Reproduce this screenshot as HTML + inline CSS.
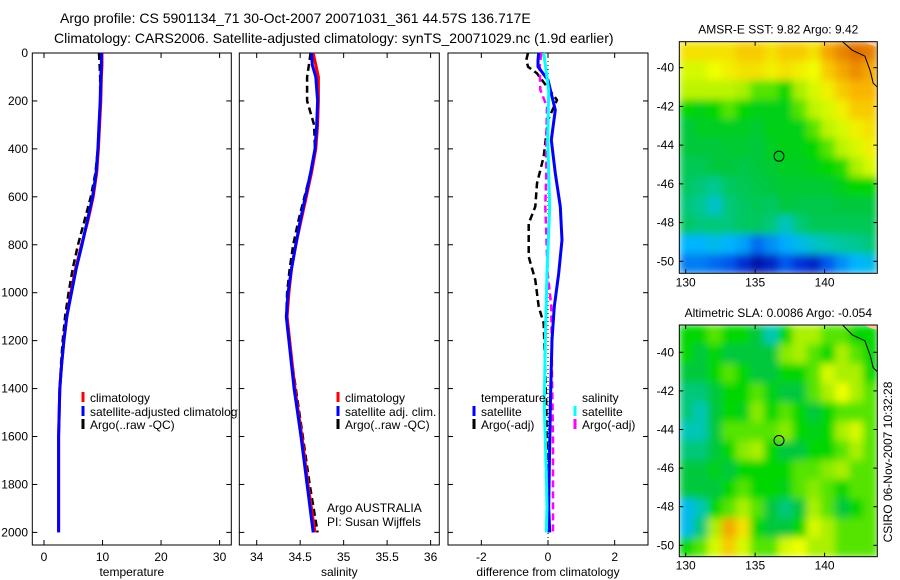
<!DOCTYPE html>
<html><head><meta charset="utf-8"><style>
html,body{margin:0;padding:0;background:#fff;}
svg{display:block;font-family:"Liberation Sans",sans-serif;}
</style></head><body>
<svg id="fig" width="900" height="580" viewBox="0 0 900 580" xmlns="http://www.w3.org/2000/svg">
<defs>
<clipPath id="c1"><rect x="0" y="0" width="238" height="580"/></clipPath>
<clipPath id="m1"><rect x="679.3" y="41.7" width="198" height="231.6"/></clipPath>
<clipPath id="m2"><rect x="679.3" y="325" width="198" height="231.7"/></clipPath>
<filter id="blur" x="-5%" y="-5%" width="110%" height="110%"><feGaussianBlur stdDeviation="4" edgeMode="duplicate"/></filter>
</defs>
<text x="60" y="23" font-size="14">Argo profile: CS 5901134_71 30-Oct-2007 20071031_361 44.57S 136.717E</text>
<text x="54" y="43" font-size="14">Climatology: CARS2006. Satellite-adjusted climatology: synTS_20071029.nc (1.9d earlier)</text>
<g id="layer"></g>
</svg>
<script>
// ---- profile data ----
const depths = [0,50,100,200,300,400,500,600,700,800,900,1000,1100,1200,1300,1400,1500,1600,1800,2000];
const tempClim = [9.9,9.9,9.8,9.7,9.5,9.3,9.0,8.4,7.5,6.4,5.4,4.6,3.9,3.4,3.0,2.7,2.6,2.5,2.5,2.5];
const tempSat  = [9.8,9.8,9.7,9.6,9.4,9.2,8.9,8.3,7.4,6.5,5.5,4.7,3.9,3.4,3.0,2.7,2.6,2.5,2.5,2.5];
const tempArgo = [9.4,9.5,9.6,9.6,9.4,9.2,8.8,8.0,6.9,5.8,4.9,4.2,3.6,3.2,2.9,2.7,2.6,2.5,2.5,2.5];
const salClim = [34.65,34.68,34.71,34.71,34.70,34.68,34.63,34.57,34.51,34.45,34.40,34.37,34.35,34.38,34.41,34.44,34.48,34.52,34.59,34.67];
const salSat  = [34.63,34.64,34.68,34.70,34.69,34.67,34.62,34.56,34.50,34.45,34.40,34.36,34.34,34.37,34.40,34.43,34.47,34.51,34.58,34.65];
const salArgo = [34.62,34.60,34.58,34.58,34.66,34.67,34.62,34.55,34.48,34.42,34.38,34.35,34.34,34.37,34.41,34.45,34.49,34.53,34.61,34.70];
const dTempSatDepth = [0,29,57,113,238,363,502,641,780,919,1058,1197,1475,1893,2000];
const dTempSat      = [-0.28,-0.3,-0.3,0,0.22,0.1,0.22,0.37,0.42,0.32,0.19,0.12,0.07,0.02,0.05];
const dTempArgoDepth = [0,29,57,85,196,279,432,544,641,711,850,947,1058,1128,1336,1475,1893,2000];
const dTempArgo      = [-0.6,-0.65,-0.6,-0.33,0.27,0,-0.13,-0.33,-0.38,-0.58,-0.58,-0.38,-0.28,-0.13,-0.08,-0.05,-0.01,0];
const dSalSatDepth = [0,154,363,641,919,1197,1475,1753,1893,2000];
const dSalSat      = [-0.13,0.02,-0.01,0.05,-0.03,-0.08,-0.11,-0.05,-0.03,-0.05];
const dSalArgoDepth = [0,57,154,224,363,502,641,919,1058,1336,1614,1893,2000];
const dSalArgo      = [-0.2,-0.25,-0.23,-0.03,-0.05,-0.05,-0.08,-0.01,0.1,0.12,0.15,0.15,0.15];
// ---- map data (colour index 0..1, rows -39..-50, cols 130..143) ----
const sstGrid = [
[.72,.72,.72,.72,.75,.75,.72,.75,.75,.72,.8,.85,.88,.86],
[.65,.65,.68,.7,.72,.72,.7,.72,.7,.68,.75,.8,.84,.8],
[.62,.62,.62,.62,.6,.55,.55,.5,.6,.65,.7,.75,.78,.78],
[.5,.48,.5,.55,.5,.48,.48,.48,.55,.62,.65,.7,.75,.75],
[.45,.47,.47,.47,.47,.46,.48,.48,.48,.55,.62,.65,.7,.72],
[.45,.45,.45,.46,.46,.45,.47,.48,.48,.5,.55,.62,.65,.7],
[.43,.43,.45,.45,.44,.45,.46,.47,.47,.48,.5,.52,.6,.65],
[.42,.4,.38,.42,.43,.44,.45,.46,.46,.46,.46,.48,.5,.5],
[.4,.38,.33,.4,.42,.43,.42,.45,.44,.44,.44,.45,.45,.45],
[.42,.4,.4,.4,.42,.42,.4,.34,.4,.43,.43,.43,.43,.43],
[.28,.28,.3,.28,.26,.2,.24,.27,.3,.33,.35,.37,.38,.4],
[.22,.22,.2,.18,.12,.06,.1,.18,.13,.1,.18,.24,.28,.3]];
const slaGrid = [
[.5,.5,.55,.5,.5,.45,.35,.5,.6,.6,.55,.55,.5,.5],
[.5,.45,.5,.45,.45,.45,.45,.58,.6,.55,.5,.6,.55,.5],
[.45,.45,.5,.55,.5,.45,.45,.5,.5,.55,.65,.6,.6,.5],
[.4,.4,.45,.5,.5,.55,.48,.45,.45,.55,.6,.68,.6,.55],
[.4,.35,.45,.5,.48,.58,.5,.55,.5,.45,.5,.55,.55,.55],
[.35,.35,.45,.55,.55,.55,.55,.58,.5,.48,.5,.6,.65,.55],
[.4,.4,.45,.5,.58,.6,.5,.45,.45,.5,.5,.55,.6,.55],
[.45,.45,.48,.45,.5,.5,.5,.5,.55,.55,.58,.6,.55,.55],
[.45,.45,.45,.5,.55,.5,.5,.48,.55,.58,.55,.5,.55,.55],
[.3,.35,.5,.55,.6,.55,.45,.4,.45,.6,.55,.45,.5,.55],
[.3,.4,.6,.8,.72,.5,.45,.45,.5,.65,.6,.55,.55,.55],
[.5,.55,.65,.75,.65,.55,.55,.65,.68,.6,.6,.55,.55,.55]];
const depthTicks = [0,200,400,600,800,1000,1200,1400,1600,1800,2000];
const tempTicks = [0,10,20,30];
const salTicks = [34,34.5,35,35.5,36];
const diffTicks = [-2,0,2];
const latTicks = [-40,-42,-44,-46,-48,-50];
const lonTicks = [130,135,140];

const NS='http://www.w3.org/2000/svg';
const L=document.getElementById('layer');
function mk(t,a,p){const e=document.createElementNS(NS,t);for(const k in a)e.setAttribute(k,a[k]);(p||L).appendChild(e);return e;}
const top0=53, bot=545;
const yD=d=>top0+d*0.2397;
const panels=[
 {x0:32.3,x1:231.3,lo:-2,hi:32,ticks:tempTicks,lab:'temperature',name:'temperature-panel'},
 {x0:239.3,x1:439.3,lo:33.8,hi:36.1,ticks:salTicks,lab:'salinity',name:'salinity-panel'},
 {x0:448,x1:648,lo:-3,hi:3,ticks:diffTicks,lab:'difference from climatology',name:'difference-panel'}];
panels.forEach(p=>{p.sx=v=>p.x0+(v-p.lo)/(p.hi-p.lo)*(p.x1-p.x0);});
panels.forEach((p,i)=>{
  const g=mk('g',{});
  
  
  mk('rect',{x:p.x0,y:top0,width:p.x1-p.x0,height:bot-top0,fill:'#fff',stroke:'#000','stroke-width':1},g);
  depthTicks.forEach(d=>{
    mk('line',{x1:p.x0,x2:p.x0+5,y1:yD(d),y2:yD(d),stroke:'#000'},g);
    mk('line',{x1:p.x1,x2:p.x1-5,y1:yD(d),y2:yD(d),stroke:'#000'},g);
    if(i===0){const t=mk('text',{x:28,y:yD(d)+4,'font-size':12,'text-anchor':'end'},g);t.textContent=d;
      }
  });
  p.ticks.forEach(v=>{const x=p.sx(v);
    mk('line',{x1:x,x2:x,y1:top0,y2:top0+5,stroke:'#000'},g);
    mk('line',{x1:x,x2:x,y1:bot,y2:bot-5,stroke:'#000'},g);
    const t=mk('text',{x:x,y:561,'font-size':12,'text-anchor':'middle'},g);t.textContent=v;
    });
  const t=mk('text',{x:(p.x0+p.x1)/2,y:576,'font-size':12,'text-anchor':'middle'},g);t.textContent=p.lab;
  
});
function line(p,vals,ds,col,dash,name){
  const pts=vals.map((v,k)=>p.sx(v).toFixed(1)+','+yD(ds[k]).toFixed(1)).join(' ');
  const e=mk('polyline',{points:pts,fill:'none',stroke:col,'stroke-width':dash?2.5:3,'stroke-dasharray':dash?'7,4':'none','stroke-linejoin':'round'});
  
  
}
const P=panels;
line(P[0],tempArgo,depths,'#000',true,'temp-argo-line');
line(P[0],tempClim,depths,'#f00',false,'temp-climatology-line');
line(P[0],tempSat,depths,'#00f',false,'temp-satellite-line');
line(P[1],salArgo,depths,'#000',true,'sal-argo-line');
line(P[1],salClim,depths,'#f00',false,'sal-climatology-line');
line(P[1],salSat,depths,'#00f',false,'sal-satellite-line');
mk('line',{x1:P[2].sx(0),x2:P[2].sx(0),y1:top0,y2:bot,stroke:'#000','stroke-dasharray':'1,3'});
line(P[2],dTempArgo,dTempArgoDepth,'#000',true,'diff-temp-argo-line');
line(P[2],dSalArgo,dSalArgoDepth,'#f0f',true,'diff-sal-argo-line');
line(P[2],dTempSat,dTempSatDepth,'#00f',false,'diff-temp-satellite-line');
line(P[2],dSalSat,dSalSatDepth,'#0ff',false,'diff-sal-satellite-line');
function leg(x,y,col,txt,name,clip){
  const g=mk('g',clip?{'clip-path':'url(#c1)'}:{});
  
  
  if(col) mk('line',{x1:x,x2:x,y1:y-5,y2:y+5,stroke:col,'stroke-width':3},g);
  const t=mk('text',{x:x+7,y:y+5,'font-size':12},g);t.textContent=txt;
}
leg(83,397,'#f00','climatology','legend-climatology',true);
leg(83,411,'#00f','satellite-adjusted climatology','legend-satellite',true);
leg(83,424,'#000','Argo(..raw -QC)','legend-argo',true);
leg(338,397,'#f00','climatology','legend-sal-climatology');
leg(338,411,'#00f','satellite adj. clim.','legend-sal-satellite');
leg(338,424,'#000','Argo(..raw -QC)','legend-sal-argo');
leg(474,397,null,'temperature','legend-temperature-header');
leg(474,411,'#00f','satellite','legend-diff-temp-satellite');
leg(474,424,'#000','Argo(-adj)','legend-diff-temp-argo');
leg(575,397,null,'salinity','legend-salinity-header');
leg(575,411,'#0ff','satellite','legend-diff-sal-satellite');
leg(575,424,'#f0f','Argo(-adj)','legend-diff-sal-argo');
leg(320,507,null,'Argo AUSTRALIA','argo-agency-label');
leg(320,521,null,'PI: Susan Wijffels','pi-label');

// ---- maps ----
const stops=[[0,[0,0,130]],[.15,[0,60,230]],[.28,[0,180,255]],[.36,[0,200,170]],[.45,[0,200,60]],[.5,[0,215,0]],[.6,[170,240,0]],[.68,[240,255,0]],[.78,[250,180,0]],[.9,[220,100,0]],[1,[180,50,0]]];
function cmap(v){for(let i=1;i<stops.length;i++){if(v<=stops[i][0]){const a=stops[i-1],b=stops[i],t=(v-a[0])/(b[0]-a[0]);
  return 'rgb('+a[1].map((c,k)=>Math.round(c+(b[1][k]-c)*t)).join(',')+')';}}return 'rgb(180,50,0)';}
function map(y0,y1,latm40,latm50,grid,title,name,clipId){
  const x0=679.3,x1=877.3;
  const sx=lon=>x0+(lon-129.54)*13.89;
  const k=(latm50-latm40)/10; const sy=lat=>latm40+(-40-lat)*k;
  const g=mk('g',{});
  
  
  const cg=mk('g',{'clip-path':'url(#'+clipId+')'},g);
  const bg=mk('g',{filter:'url(#blur)'},cg);
  const cw=(x1-x0)/grid[0].length, ch=(y1-y0)/grid.length;
  grid.forEach((row,r)=>row.forEach((v,c)=>{
    const e=mk('rect',{x:x0+c*cw,y:y0+r*ch,width:cw+0.6,height:ch+0.6,fill:cmap(v)},bg);
    
    
  }));
  mk('polygon',{points:`${sx(142.8)},${y0} ${x1},${y0} ${x1},${y0+5} ${sx(143.3)},${y0+3}`,fill:'#ffc8a0'},g);
  mk('polyline',{points:`${sx(141.3)},${y0} ${sx(142)},${sy(-39.1)} ${sx(142.9)},${sy(-39.4)} ${sx(143.3)},${sy(-40.2)} ${sx(143.5)},${sy(-40.8)} ${x1},${sy(-41)}`,fill:'none',stroke:'#000','stroke-width':1},g);
  mk('rect',{x:x0,y:y0,width:x1-x0,height:y1-y0,fill:'none',stroke:'#000'},g);
  latTicks.forEach(l=>{const y=sy(l);
    mk('line',{x1:x0,x2:x0+4,y1:y,y2:y,stroke:'#000'},g);mk('line',{x1:x1,x2:x1-4,y1:y,y2:y,stroke:'#000'},g);
    const t=mk('text',{x:674,y:y+4,'font-size':12,'text-anchor':'end'},g);t.textContent=l;
    });
  lonTicks.forEach(l=>{const x=sx(l);
    mk('line',{x1:x,x2:x,y1:y0,y2:y0+4,stroke:'#000'},g);mk('line',{x1:x,x2:x,y1:y1,y2:y1-4,stroke:'#000'},g);
    const t=mk('text',{x:x,y:y1+13,'font-size':12,'text-anchor':'middle'},g);t.textContent=l;
    });
  const c=mk('circle',{cx:sx(136.717),cy:sy(-44.57),r:5,fill:'none',stroke:'#000'},g);
  
  const t=mk('text',{x:(x0+x1)/2,y:y0-8,'font-size':12,'text-anchor':'middle'},g);t.textContent=title;
  
}
map(41.7,273.3,67.7,261.3,sstGrid,'AMSR-E SST: 9.82 Argo: 9.42','sst-map','m1');
map(325,556.7,352.3,545.3,slaGrid,'Altimetric SLA: 0.0086 Argo: -0.054','sla-map','m2');
const st=mk('text',{x:892,y:462,'font-size':12,'text-anchor':'middle',transform:'rotate(-90 892 462)'});
st.textContent='CSIRO 06-Nov-2007 10:32:28';


</script>
</body></html>
